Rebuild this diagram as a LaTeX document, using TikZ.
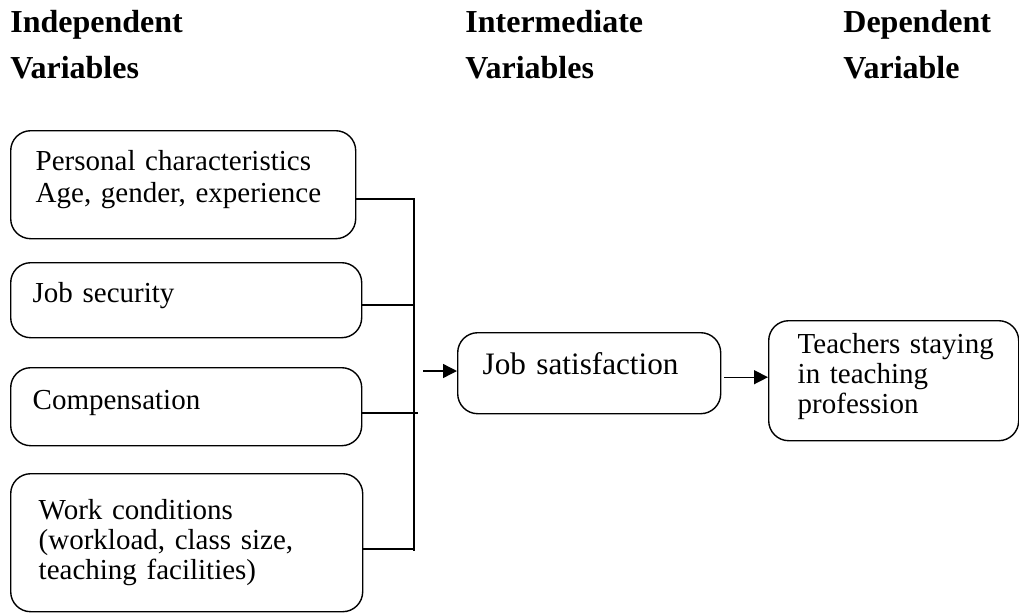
\documentclass[tikz,border=0pt]{standalone}
\usepackage{fontspec}
\setmainfont{Liberation Serif}
\usetikzlibrary{arrows.meta}
\hyphenpenalty=10000
\exhyphenpenalty=10000

\begin{document}
\begin{tikzpicture}[
    x=0.5pt, y=-0.5pt,
    varbox/.style={draw, line width=0.7pt, rounded corners=10pt, anchor=north west, align=left, inner ysep=0pt, font=\fontsize{14.5}{15}\selectfont}, % rounded boxes
    head/.style={anchor=north west, align=left, inner sep=0pt, font=\fontsize{16}{23}\selectfont\bfseries}, % column headings
    link/.style={line width=0.7pt}, % plain lines
    flow/.style={line width=0.7pt, -{Triangle[length=7pt, width=7pt]}} % arrows
]
    \useasboundingbox (0,0) rectangle (1019,612);

    % Headings
    \node[head] (indep) at (10,10) {Independent\\Variables};
    \node[head] (inter) at (465,10) {Intermediate\\Variables};
    \node[head] (dep) at (843,10) {Dependent\\Variable};

    % Independent variables
    \node[varbox, font=\fontsize{14.5}{16}\selectfont, text depth=24pt, minimum width=172.5pt, minimum height=54pt, inner xsep=12.5pt, text width=147.5pt] (personal) at (10,130) {Personal~characteristics\\Age,~gender,~experience};
    \node[varbox, text depth=8pt, minimum width=175.5pt, minimum height=37.5pt, inner xsep=11pt, text width=153.5pt] (security) at (10,262) {Job~security};
    \node[varbox, text depth=7pt, minimum width=175.5pt, minimum height=39pt, inner xsep=11pt, text width=153.5pt] (pay) at (10,367) {Compensation};
    \node[varbox, minimum width=176pt, minimum height=69pt, inner xsep=14pt, text width=148pt] (work) at (10,473) {Work~conditions\\(workload,~class~size,\\teaching~facilities)};

    % Intermediate and dependent variables
    \node[varbox, font=\fontsize{15.6}{15}\selectfont, text depth=10pt, minimum width=131.5pt, minimum height=40.5pt, inner xsep=12.5pt, text width=106.5pt] (job) at (457,332) {Job~satisfaction};
    \node[varbox, text depth=36.8pt, minimum width=125pt, minimum height=60pt, inner xsep=14.5pt, text width=96pt] (result) at (768,320) {Teachers~staying\\in~teaching\\profession};

    % Bus line
    \coordinate (bus1) at (414,199);
    \coordinate (bus2) at (414,305);
    \coordinate (bus3) at (418,413);
    \coordinate (bus4) at (414,549);
    \coordinate (busend) at (414,551);
    \coordinate (feed) at (423,371);

    \draw[link] (personal.east |- bus1) -- (bus1) -- (busend);
    \draw[link] (security.east |- bus2) -- (bus2);
    \draw[link] (pay.east |- bus3) -- (bus3);
    \draw[link] (work.east |- bus4) -- (bus4);

    % Arrows
    \draw[flow] (feed) -- (feed -| job.west);
    \draw[flow] ([xshift=1.5pt, yshift=-2pt]job.east) -- ([yshift=-2pt]job.east -| result.west);

\end{tikzpicture}
\end{document}
